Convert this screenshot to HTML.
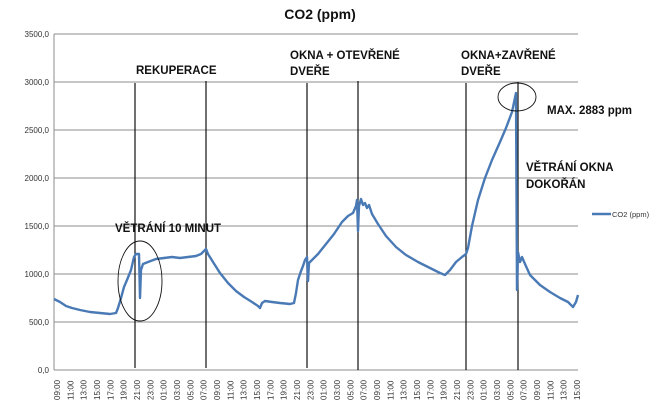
<!DOCTYPE html>
<html><head><meta charset="utf-8"><style>
html,body{margin:0;padding:0;background:#fff;width:666px;height:403px;overflow:hidden}
svg{display:block}
.ax{font-family:"Liberation Sans",sans-serif;font-size:8px;fill:#333}
.an{font-family:"Liberation Sans","DejaVu Sans",sans-serif;font-size:11.5px;font-weight:bold;fill:#111}
</style></head><body>
<svg width="666" height="403" viewBox="0 0 666 403">
<text x="320" y="19" text-anchor="middle" font-family="Liberation Sans,sans-serif" font-size="14" font-weight="bold" fill="#111">CO2 (ppm)</text>
<g stroke="#8c8c8c" stroke-width="1">
<line x1="54" y1="34" x2="578" y2="34"/><line x1="54" y1="82" x2="578" y2="82"/><line x1="54" y1="130" x2="578" y2="130"/><line x1="54" y1="178" x2="578" y2="178"/><line x1="54" y1="226" x2="578" y2="226"/><line x1="54" y1="274" x2="578" y2="274"/><line x1="54" y1="322" x2="578" y2="322"/>
<line x1="54" y1="370" x2="578" y2="370"/><line x1="54" y1="34" x2="54" y2="370"/>
</g>
<g class="ax" text-anchor="end">
<text x="49" y="37">3500,0</text><text x="49" y="85">3000,0</text><text x="49" y="133">2500,0</text><text x="49" y="181">2000,0</text><text x="49" y="229">1500,0</text><text x="49" y="277">1000,0</text><text x="49" y="325">500,0</text><text x="49" y="373">0,0</text>
</g>
<g class="ax" id="xl"></g>
<g stroke="#111" stroke-width="1.2">
<line x1="135" y1="83" x2="135" y2="368"/><line x1="206" y1="81" x2="206" y2="368"/><line x1="307" y1="83" x2="307" y2="368"/><line x1="358" y1="81" x2="358" y2="370"/><line x1="466" y1="83" x2="466" y2="370"/><line x1="518" y1="82" x2="518" y2="370"/>
</g>
<polyline fill="none" stroke="#4a7ab5" stroke-width="2.4" stroke-linejoin="round" points="
54,299 60,302 66,306 72,308 80,310 90,312 100,313 110,314 116,313 118,308 121,298 124,287 127,280 131,270 134,257 136,254 139,254 140,298 141,270 143,264 148,262 156,259 164,258 172,257 180,258 188,257 196,256 201,254 204,251 206,249 208,254 213,262 220,273 228,283 236,291 244,297 252,302 258,306 260,308 262,303 265,301 272,302 280,303 290,304 294,303 296,293 298,280 301,271 303,266 305,260 307,257 308,281 309,263 312,260 318,254 326,244 334,234 342,222 348,216 353,213 356,206 357,200 358,231 359,206 361,199 363,205 365,203 367,208 369,205 372,214 378,224 386,236 396,247 406,255 418,262 430,268 440,273 445,275 450,270 456,262 462,257 466,254 468,248 472,226 478,200 485,178 492,160 500,142 506,128 512,112 516,93 517,290 518,252 520,262 522,257 525,264 530,275 540,285 550,292 560,298 568,302 573,307 576,302 578,295"/>
<ellipse cx="140" cy="281" rx="22" ry="40" fill="none" stroke="#111" stroke-width="0.9"/>
<ellipse cx="517" cy="97" rx="19" ry="14" fill="none" stroke="#111" stroke-width="0.9"/>
<text class="an" x="136" y="74">REKUPERACE</text>
<text class="an" x="290" y="59">OKNA + OTEVŘENÉ</text>
<text class="an" x="290" y="75">DVEŘE</text>
<text class="an" x="461" y="59">OKNA+ZAVŘENÉ</text>
<text class="an" x="461" y="75">DVEŘE</text>
<text class="an" x="547" y="114">MAX. 2883 ppm</text>
<text class="an" x="526" y="171">VĚTRÁNÍ OKNA</text>
<text class="an" x="526" y="188">DOKOŘÁN</text>
<text class="an" x="115" y="232">VĚTRÁNÍ 10 MINUT</text>
<line x1="592" y1="214" x2="611" y2="214" stroke="#4a7ab5" stroke-width="2.5"/>
<text x="612" y="217" font-family="Liberation Sans,sans-serif" font-size="7.5" fill="#333">CO2 (ppm)</text>
</svg>
<script>
var g=document.getElementById('xl'),s='';
for(var i=0;i<40;i++){var h=(9+2*i)%24;var t=(h<10?'0':'')+h+':00';var x=57+i*(520/39);
s+='<text transform="translate('+(x+3)+',400) rotate(-90)">'+t+'</text>';}
g.innerHTML=s;
</script>
</body></html>
